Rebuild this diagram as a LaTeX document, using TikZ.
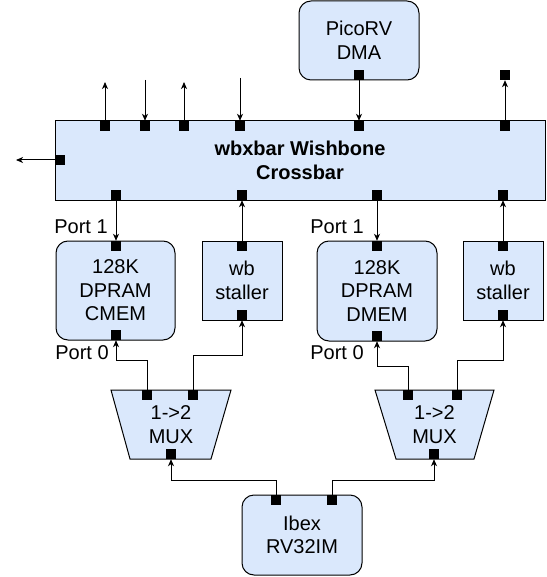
\documentclass[tikz,border=0pt]{standalone}
\usepackage{fontspec}
\setmainfont{Liberation Sans}
\usetikzlibrary{arrows.meta}
\definecolor{boxfill}{HTML}{DAE8FC}
\tikzset{
  txt/.style={font=\fontsize{20}{23.5}\selectfont, align=center},
  box/.style={txt, draw=black, fill=boxfill, line width=1pt, inner sep=0pt},
  rbox/.style={box, rounded corners=12pt},
  port/.style={fill=black, draw=none, inner sep=0pt, minimum size=10pt},
  conn/.style={line width=1pt},
  arr/.style={conn, -{Stealth[length=7pt,width=6pt,inset=2pt]}},
  lbl/.style={txt, inner sep=0pt},
  muxbox/.style={draw=black, fill=boxfill, line width=1pt, line join=miter},
}
\begin{document}
\begin{tikzpicture}[x=1pt,y=-1pt]
\useasboundingbox (0,0) rectangle (546,577);

% boxes
\node[box, minimum width=490pt, minimum height=79pt] (xbar) at (300,160.5) {\textbf{wbxbar Wishbone}\\\textbf{Crossbar}};
\node[rbox, minimum width=120pt, minimum height=79pt] (pico) at (359,40.5) {PicoRV\\DMA};
\node[rbox, minimum width=119pt, minimum height=99pt] (cmem) at (115.5,290.5) {128K\\DPRAM\\CMEM};
\node[box, minimum width=80pt, minimum height=79pt] (stl) at (242,280.5) {wb\\staller};
\node[rbox, minimum width=120pt, minimum height=100pt] (dmem) at (377,291) {128K\\DPRAM\\DMEM};
\node[box, minimum width=80pt, minimum height=79pt] (str) at (503,280.5) {wb\\staller};
\node[rbox, minimum width=120pt, minimum height=80pt] (ibex) at (302,535) {Ibex\\RV32IM};

% muxes
\draw[muxbox] (111,390) -- (231,390) -- (211,459) -- (130,459) -- cycle;
\node[lbl] (muxl) at (171,424.5) {1->2\\MUX};
\draw[muxbox] (375,390) -- (494,390) -- (474,459) -- (396,459) -- cycle;
\node[lbl] (muxr) at (434.5,424.5) {1->2\\MUX};

% labels
\node[lbl] (p1l) at (81,227) {Port 1};
\node[lbl] (p0l) at (82,353) {Port 0};
\node[lbl] (p1r) at (337,227) {Port 1};
\node[lbl] (p0r) at (337,353) {Port 0};

% ports on crossbar
\node[port] (t1) at (105,126) {};
\node[port] (t2) at (145,126) {};
\node[port] (t3) at (184,126) {};
\node[port] (t4) at (240,126) {};
\node[port] (t5) at (359,126) {};
\node[port] (t6) at (505,126) {};
\node[port] (l1) at (60,160) {};
\node[port] (b1) at (116,195) {};
\node[port] (b2) at (242,195) {};
\node[port] (b3) at (377,195) {};
\node[port] (b4) at (503,195) {};
% other ports
\node[port] (pdb) at (359,75) {};
\node[port] (sq) at (505,75) {};
\node[port] (cmt) at (116,246) {};
\node[port] (cmb) at (116,335) {};
\node[port] (slt) at (242,246) {};
\node[port] (slb) at (242,315) {};
\node[port] (dmt) at (377,246) {};
\node[port] (dmb) at (377,336) {};
\node[port] (srt) at (503,246) {};
\node[port] (srb) at (503,315) {};
\node[port] (ml1) at (147,395) {};
\node[port] (ml2) at (193,395) {};
\node[port] (mlb) at (171,454) {};
\node[port] (mr1) at (408,395) {};
\node[port] (mr2) at (457,395) {};
\node[port] (mrb) at (434,454) {};
\node[port] (ib1) at (276,500) {};
\node[port] (ib2) at (332,500) {};

% free ends
\coordinate (u1) at (105,82);
\coordinate (d2) at (145,80);
\coordinate (u3) at (184,82);
\coordinate (d4) at (240,78);
\coordinate (lf) at (16,160);

% connectors
\draw[arr] (t1) -- (u1);
\draw[arr] (d2) -- (t2);
\draw[arr] (t3) -- (u3);
\draw[arr] (d4) -- (t4);
\draw[arr] (pdb) -- (t5);
\draw[arr] (t6) -- (sq);
\draw[arr] (l1) -- (lf);
\draw[arr] (b1) -- (cmt);
\draw[arr] (slt) -- (b2);
\draw[arr] (b3) -- (dmt);
\draw[arr] (srt) -- (b4);
\draw[arr] (ml1.north) -- ++(0,-29) -| (cmb.south);
\draw[arr] (ml2.north) -- ++(0,-34) -| (slb.south);
\draw[arr] (mr1.north) -- ++(0,-23) -| (dmb.south);
\draw[arr] (mr2.north) -- ++(0,-29) -| (srb.south);
\draw[arr] (ib1.north) -- ++(0,-14) -| (mlb.south);
\draw[arr] (ib2.north) -- ++(0,-14) -| (mrb.south);
\end{tikzpicture}
\end{document}
